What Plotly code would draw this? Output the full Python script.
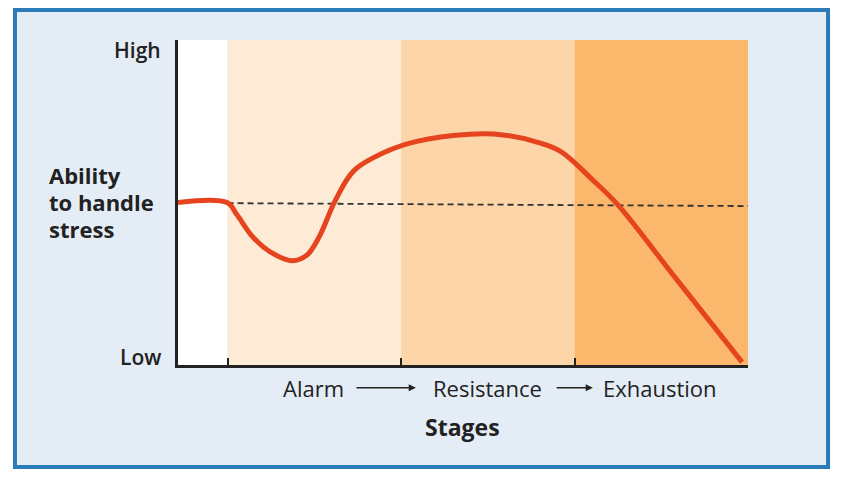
import plotly.graph_objects as go

# Stage bands (x in chart units, 0 = y axis)
band_edges = [0, 1.0, 4.5, 8.0, 11.5]
band_colors = ["#ffffff", "#fdebd6", "#fcd6a9", "#fbb86c"]

# Ability to handle stress curve
curve_x = [0, 0.99, 1.19, 1.51, 1.86, 2.3, 2.6, 2.85, 3.17, 3.55, 4.22,
           4.84, 5.89, 6.56, 7.24, 7.71, 8.37, 8.88, 10.0, 11.38]
curve_y = [5.0, 5.0, 4.62, 3.94, 3.48, 3.21, 3.38, 3.95, 5.05, 5.98, 6.58,
           6.89, 7.1, 7.08, 6.86, 6.58, 5.69, 4.92, 2.75, 0.09]

# Normal level (dashed reference)
normal_x = [1.0, 11.5]
normal_y = [4.98, 4.89]

y_tick_vals = [9.7, 0.25]
y_tick_text = ["High", "Low"]

ylabel_lines = ["Ability", "to handle", "stress"]
ylabel_y = [5.85, 5.02, 4.2]

stage_x = [2.73, 6.24, 9.72]
stage_text = ["Alarm", "Resistance", "Exhaustion"]
arrow_start = [3.57, 7.61]
arrow_end = [4.8, 8.37]

FONT = "'Open Sans', Lato, sans-serif"
TEXT = "#222222"

fig = go.Figure()

fig.add_trace(
    go.Scatter(
        x=normal_x,
        y=normal_y,
        mode="lines",
        line={"color": "#333333", "width": 1.8, "dash": "6px,4px"},
        hoverinfo="none",
        showlegend=False,
    )
)
fig.add_trace(
    go.Scatter(
        x=curve_x,
        y=curve_y,
        mode="lines",
        line={"color": "#e5441e", "width": 5, "shape": "spline", "smoothing": 1.0},
        hoverinfo="none",
        showlegend=False,
    )
)

shapes = [
    # outer framed panel
    dict(
        type="rect", xref="paper", yref="paper", layer="below",
        x0=-0.2860, x1=1.1404, y0=-0.3138, y1=1.0923,
        fillcolor="#e4ecf6", line={"color": "#2b7bb9", "width": 4},
    ),
]
for i, color in enumerate(band_colors):
    shapes.append(
        dict(
            type="rect", xref="x", yref="y", layer="below",
            x0=band_edges[i], x1=band_edges[i + 1], y0=0, y1=10,
            fillcolor=color, line={"width": 0},
        )
    )

annotations = []
for val, txt in zip(y_tick_vals, y_tick_text):
    annotations.append(
        dict(
            x=-0.026, xref="paper", y=val, yref="y", text=txt,
            xanchor="right", yanchor="middle", showarrow=False,
            font={"family": FONT, "size": 21, "color": TEXT, "weight": 600},
        )
    )
for val, txt in zip(ylabel_y, ylabel_lines):
    annotations.append(
        dict(
            x=-0.230, xref="paper", y=val, yref="y", text=txt,
            xanchor="left", yanchor="middle", showarrow=False,
            font={"family": FONT, "size": 22, "color": TEXT, "weight": "bold"},
        )
    )
for sx, txt in zip(stage_x, stage_text):
    annotations.append(
        dict(
            x=sx, xref="x", y=-0.07, yref="paper", text=txt,
            xanchor="center", yanchor="middle", showarrow=False,
            font={"family": FONT, "size": 22, "color": TEXT, "weight": 500},
        )
    )
for x0, x1 in zip(arrow_start, arrow_end):
    annotations.append(
        dict(
            x=x1, xref="x", y=-0.07, yref="paper",
            ax=x0, axref="x", ay=0, ayref="pixel",
            text="", showarrow=True, arrowhead=2, arrowsize=0.9,
            arrowwidth=1.6, arrowcolor=TEXT,
        )
    )
annotations.append(
    dict(
        x=5.73, xref="x", y=-0.19, yref="paper", text="Stages",
        xanchor="center", yanchor="middle", showarrow=False,
        font={"family": FONT, "size": 23, "color": TEXT, "weight": "bold"},
    )
)

fig.update_layout(
    width=848,
    height=487,
    margin={"l": 170, "r": 108, "t": 32, "b": 130},
    paper_bgcolor="#ffffff",
    plot_bgcolor="rgba(0,0,0,0)",
    shapes=shapes,
    annotations=annotations,
    showlegend=False,
)
fig.update_xaxes(
    range=[0, 11.5],
    showgrid=False,
    zeroline=False,
    showline=True,
    linecolor="#222222",
    linewidth=2.5,
    ticks="inside",
    ticklen=7,
    tickwidth=2,
    tickcolor="#222222",
    tickvals=band_edges[1:],
    showticklabels=False,
    fixedrange=True,
)
fig.update_yaxes(
    range=[0, 10],
    showgrid=False,
    zeroline=False,
    showline=True,
    linecolor="#222222",
    linewidth=2.5,
    showticklabels=False,
    ticks="",
    fixedrange=True,
)

fig.write_html("out.html")
